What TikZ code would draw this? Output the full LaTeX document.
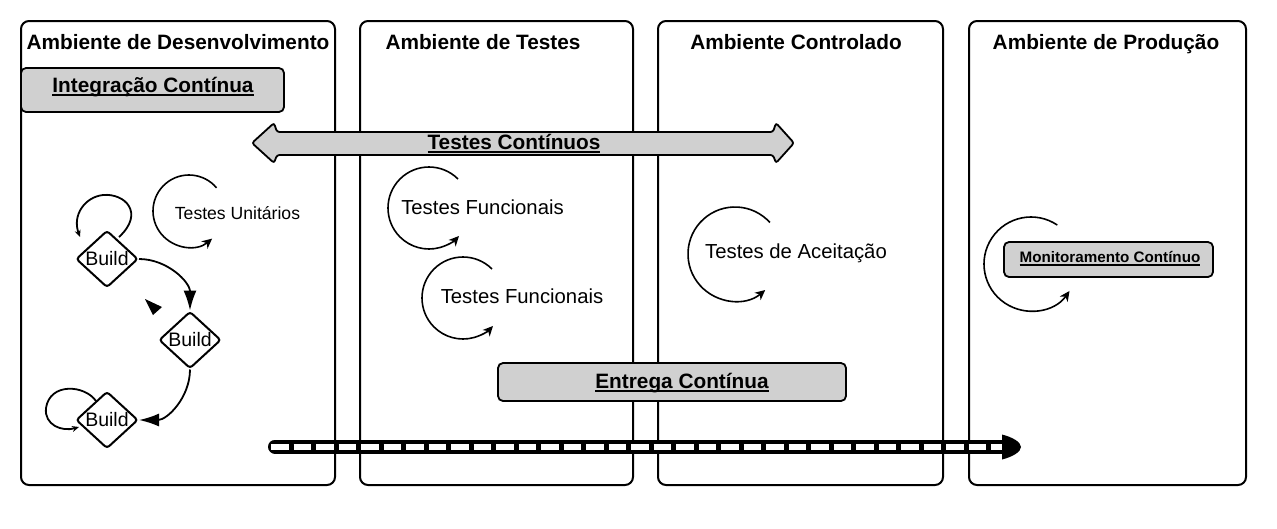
\documentclass[tikz,border=0pt]{standalone}
\usepackage{fontspec}
\setmainfont{Liberation Sans}
\usetikzlibrary{shapes.geometric,arrows.meta}
\definecolor{boxgray}{RGB}{208,208,208}
\newcommand\myul[2][1.6pt]{\setbox0\hbox{#2}\leavevmode\rlap{\rule[-3.6pt]{\wd0}{#1}}\box0}
\begin{document}
\begin{tikzpicture}[x=1pt,y=1pt,
  panel/.style={draw, line width=2pt, rounded corners=8pt, inner sep=0pt},
  ttl/.style={font=\fontsize{20.8}{24}\selectfont\bfseries, anchor=base, inner sep=0pt},
  graybox/.style={draw, fill=boxgray, line width=1.8pt, rounded corners=5pt, inner sep=0pt},
  plain/.style={font=\fontsize{20.3}{24}\selectfont, anchor=base, inner sep=0pt},
  looparc/.style={line width=1.6pt, -{Stealth[length=10pt,width=9.5pt,inset=3pt]}},
  buildd/.style={diamond, draw, line width=2pt, rounded corners=3pt, minimum width=62pt,
    minimum height=57pt, inner sep=0pt, font=\fontsize{19.5}{22}\selectfont},
  conn/.style={line width=1.8pt}
]
\useasboundingbox (0,0) rectangle (1277,-528);
\fill[white] (0,0) rectangle (1277,-528);

% panels
\node[panel, minimum width=314pt, minimum height=464pt] (p1) at (178,-253) {};
\node[panel, minimum width=273pt, minimum height=464pt] (p2) at (496.5,-253) {};
\node[panel, minimum width=285pt, minimum height=464pt] (p3) at (800.5,-253) {};
\node[panel, minimum width=277pt, minimum height=464pt] (p4) at (1107.5,-253) {};

% titles
\node[ttl] (t1) at (178,-49) {Ambiente de Desenvolvimento};
\node[ttl] (t2) at (483,-49) {Ambiente de Testes};
\node[ttl] (t3) at (796,-49) {Ambiente Controlado};
\node[ttl] (t4) at (1106,-49) {Ambiente de Produção};

% Integracao Continua
\node[graybox, minimum width=263pt, minimum height=44pt] (ic) at (152.5,-90) {};
\node[ttl] (ict) at (153,-92) {\myul{Integração Contínua}};

% Testes Continuos double arrow
\filldraw[fill=boxgray, line width=1.8pt, rounded corners=2.5pt]
  (252,-143) -- (274,-123) -- (277,-132) -- (773,-132) -- (776,-123) -- (794,-143)
  -- (776,-163) -- (773,-155) -- (277,-155) -- (274,-163) -- cycle;
\node[ttl] (tct) at (514,-149) {\myul{Testes Contínuos}};

% loop arcs and texts
\draw[looparc] ([shift={(40:36)}]189,-211) arc[start angle=40, end angle=310, radius=36];
\node[plain, font=\fontsize{17.6}{20}\selectfont] (tu) at (237.5,-219) {Testes Unitários};

\draw[looparc] ([shift={(45:41)}]429,-208) arc[start angle=45, end angle=317, radius=41];
\node[plain] (tf1) at (482.5,-214) {Testes Funcionais};

\draw[looparc] ([shift={(45:41)}]463,-298) arc[start angle=45, end angle=317, radius=41];
\node[plain] (tf2) at (522,-303) {Testes Funcionais};

\draw[looparc] ([shift={(42:47)}]735,-254) arc[start angle=42, end angle=310, radius=47];
\node[plain] (ta) at (796,-258) {Testes de Aceitação};

\draw[looparc] ([shift={(56:47)}]1031,-264) arc[start angle=56, end angle=325, radius=47];
\node[graybox, minimum width=209pt, minimum height=35pt] (mc) at (1108.5,-259.5) {};
\node[ttl, font=\fontsize{15.2}{18}\selectfont\bfseries] (mct) at (1110,-262) {\myul[1.3pt]{Monitoramento Contínuo}};

% Build diamonds
\node[buildd] (b1) at (107,-259) {\makebox[0pt]{Build}};
\node[buildd] (b2) at (190,-340) {\makebox[0pt]{Build}};
\node[buildd] (b3) at (107,-420) {\makebox[0pt]{Build}};

\draw[conn, -{Stealth[length=7pt,width=6pt]}] (119,-237) .. controls (145,-213) and (125,-193) .. (103,-195)
  .. controls (85,-197) and (72,-215) .. (80,-237);
\draw[conn, -{Latex[length=20pt,width=13pt]}] (b1.east) to[out=0,in=90] (b2.north);
\draw[conn, -{Latex[length=20pt,width=13pt]}] (b2.south) to[out=-90,in=0] (b3.east);
\draw[conn, -{Stealth[length=7pt,width=6pt]}] (96,-401) .. controls (85,-385) and (50,-382) .. (46,-408)
  .. controls (44,-425) and (62,-432) .. (79,-427);
\fill (145,-299) -- (162,-307) -- (153,-315) -- cycle;

% Entrega Continua
\node[graybox, minimum width=348pt, minimum height=38pt] (ec) at (672,-382) {};
\node[ttl] (ect) at (682,-388) {\myul{Entrega Contínua}};

% pipeline bar
\coordinate (bs) at (275,-446.5);
\coordinate (be) at (1005,-446.5);
\draw[line width=14pt, line cap=round] (bs) -- (be);
\draw[white, line width=6pt, dash pattern=on 17.5pt off 5pt] (271,-446.5) -- (1003,-446.5);
\fill (1002,-434.5) .. controls (1012,-437) and (1021,-442) .. (1021,-447)
  .. controls (1021,-452) and (1012,-457) .. (1002,-459.5) -- cycle;
\end{tikzpicture}
\end{document}
